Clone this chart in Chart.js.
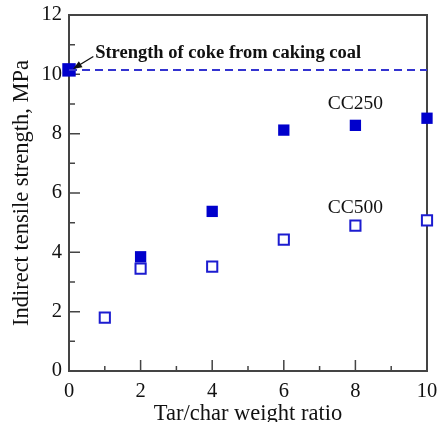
<!DOCTYPE html>
<html>
<head>
<meta charset="utf-8">
<script src="https://cdn.jsdelivr.net/npm/chart.js@4"></script>
<style>
html, body { margin: 0; padding: 0; background: #fff; }
#wrap { width: 440px; height: 422px; }
</style>
</head>
<body>
<div id="wrap"><canvas id="chart"></canvas></div>
<script>
// values
const ratioCC250 = [2, 4, 6, 8, 10];
const strengthCC250 = [3.85, 5.38, 8.12, 8.28, 8.52];
const ratioCC500 = [1, 2, 4, 6, 8, 10];
const strengthCC500 = [1.8, 3.45, 3.52, 4.43, 4.9, 5.08];
const cakingRatio = [0, 10];
const cakingStrength = 10.15;

const xTickValues = [0, 2, 4, 6, 8, 10];
const yTickValues = [0, 2, 4, 6, 8, 10, 12];

const toPoints = (xs, ys) => xs.map((v, i) => ({ x: v, y: ys[i] }));

const serif = "'Liberation Serif', 'Times New Roman', serif";
Chart.defaults.font.family = serif;
Chart.defaults.color = "#111";

const framePlugin = {
  id: "frame",
  beforeDatasetsDraw(chart) {
    const { ctx, chartArea: a, scales: { x, y } } = chart;
    ctx.save();
    ctx.strokeStyle = "#444";
    ctx.lineWidth = 2;
    ctx.strokeRect(a.left, a.top, a.right - a.left, a.bottom - a.top);
    ctx.lineWidth = 1.5;
    ctx.beginPath();
    for (let v = 1; v < 10; v++) {
      const px = x.getPixelForValue(v);
      const len = v % 2 ? 5 : 11;
      ctx.moveTo(px, a.bottom);
      ctx.lineTo(px, a.bottom - len);
    }
    for (let v = 1; v < 12; v++) {
      const py = y.getPixelForValue(v);
      const len = v % 2 ? 6 : 11;
      ctx.moveTo(a.left, py);
      ctx.lineTo(a.left + len, py);
    }
    ctx.stroke();
    ctx.restore();
  },
  afterDatasetsDraw(chart) {
    const { ctx, scales: { x, y } } = chart;
    ctx.save();
    ctx.fillStyle = "#111";
    ctx.textBaseline = "middle";
    ctx.font = "bold 18.5px " + serif;
    ctx.textAlign = "left";
    ctx.fillText("Strength of coke from caking coal", x.getPixelForValue(0.73), y.getPixelForValue(10.72));

    ctx.font = "19.5px " + serif;
    ctx.textAlign = "center";
    ctx.fillText("CC250", x.getPixelForValue(8), y.getPixelForValue(9));
    ctx.fillText("CC500", x.getPixelForValue(8), y.getPixelForValue(5.5));

    // arrow
    const tx = x.getPixelForValue(0.68), ty = y.getPixelForValue(10.6);
    const hx = x.getPixelForValue(0) + 4, hy = y.getPixelForValue(cakingStrength) - 1;
    const ang = Math.atan2(hy - ty, hx - tx);
    ctx.strokeStyle = "#111";
    ctx.lineWidth = 1.3;
    ctx.beginPath();
    ctx.moveTo(tx, ty);
    ctx.lineTo(hx - 6 * Math.cos(ang), hy - 6 * Math.sin(ang));
    ctx.stroke();
    ctx.beginPath();
    ctx.moveTo(hx, hy);
    ctx.lineTo(hx - 9 * Math.cos(ang) + 3.5 * Math.sin(ang), hy - 9 * Math.sin(ang) - 3.5 * Math.cos(ang));
    ctx.lineTo(hx - 9 * Math.cos(ang) - 3.5 * Math.sin(ang), hy - 9 * Math.sin(ang) + 3.5 * Math.cos(ang));
    ctx.closePath();
    ctx.fill();
    ctx.restore();
  }
};

new Chart(document.getElementById("chart"), {
  type: "scatter",
  data: {
    datasets: [
      {
        type: "line",
        data: cakingRatio.map(v => ({ x: v, y: cakingStrength })),
        borderColor: "#3333d0",
        borderWidth: 2,
        borderDash: [8, 5],
        pointRadius: 0,
        fill: false
      },
      {
        data: [{ x: cakingRatio[0], y: cakingStrength }],
        pointStyle: "rect",
        pointRadius: 9.5,
        backgroundColor: "#0000cc",
        borderColor: "#0000cc",
        borderWidth: 0
      },
      {
        data: toPoints(ratioCC250, strengthCC250),
        pointStyle: "rect",
        pointRadius: 8,
        backgroundColor: "#0000cc",
        borderColor: "#0000cc",
        borderWidth: 0
      },
      {
        data: toPoints(ratioCC500, strengthCC500),
        pointStyle: "rect",
        pointRadius: 7.2,
        backgroundColor: "#fff",
        borderColor: "#1c1cd0",
        borderWidth: 2
      }
    ]
  },
  options: {
    responsive: true,
    maintainAspectRatio: false,
    animation: false,
    clip: false,
    layout: { padding: { top: 15, right: 13, left: 0, bottom: 0 } },
    plugins: { legend: { display: false }, tooltip: { enabled: false } },
    scales: {
      x: {
        type: "linear",
        min: 0,
        max: 10,
        afterFit: s => { s.height = 51; s.paddingLeft = 0; s.paddingRight = 0; },
        afterBuildTicks: s => { s.ticks = xTickValues.map(v => ({ value: v })); },
        grid: { display: false, drawTicks: false },
        border: { display: false },
        ticks: { padding: 8, maxRotation: 0, font: { size: 20.5 } },
        title: {
          display: true,
          text: "Tar/char weight ratio",
          font: { size: 22.5, lineHeight: 0.72 },
          padding: { top: 0, bottom: 0 }
        }
      },
      y: {
        type: "linear",
        min: 0,
        max: 12,
        afterFit: s => { s.width = 69; s.paddingTop = 0; s.paddingBottom = 0; },
        afterBuildTicks: s => { s.ticks = yTickValues.map(v => ({ value: v })); },
        grid: { display: false, drawTicks: false },
        border: { display: false },
        ticks: { padding: 7, font: { size: 20.5 } },
        title: {
          display: true,
          text: "Indirect tensile strength, MPa",
          font: { size: 22.5, lineHeight: 1 },
          padding: { top: 11, bottom: 0 }
        }
      }
    }
  },
  plugins: [framePlugin]
});
</script>
</body>
</html>
